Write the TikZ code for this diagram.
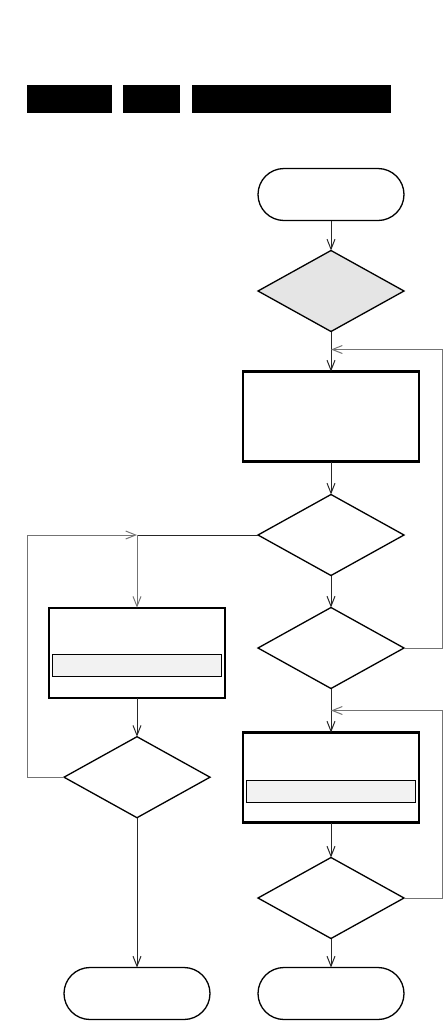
\documentclass[tikz,border=0pt]{standalone}
\usetikzlibrary{shapes.geometric, shapes.misc, arrows.meta, positioning, calc}

\begin{document}
\begin{tikzpicture}[
    x=1pt, y=-1pt,
    node distance=30pt and 11pt,
    >={Straight Barb[length=10pt,width=8pt]},
    base/.style={
      draw, inner sep=0pt, outer sep=0pt,
      line width=1.3pt
    },
    terminal/.style={
      base,
      shape=rounded rectangle,
      rounded rectangle arc length=180,
      minimum width=146pt, minimum height=52pt
    },
    decision/.style={
      base, diamond,
      minimum width=146pt, minimum height=81pt
    },
    process/.style={
      base, rectangle, line width=2.4pt,
      minimum width=176pt, minimum height=90pt
    },
    subbar/.style={
      draw, inner sep=0pt, outer sep=0pt,
      line width=0.8pt, fill=black!5,
      minimum width=169pt, minimum height=22pt
    },
    redact/.style={
      fill=black, inner sep=0pt,
      minimum height=28pt
    },
    arrow/.style={->, line width=1pt, black!85},
    back/.style={arrow, black!55}
  ]

    \useasboundingbox (0,0) rectangle (445,1021);

    % --- Header bars ---
    \node[redact, minimum width=85pt] (hdra) at (69.5,99) {};
    \node[redact, minimum width=57pt, right=of hdra] (hdrb) {};
    \node[redact, minimum width=199pt, right=of hdrb] (hdrc) {};

    % --- Start ---
    \node[terminal] (start) at (331,194.5) {};

    % --- First check ---
    \node[decision, fill=black!10, below=30pt of start] (chka) {};

    % --- Main block ---
    \node[process, below=40pt of chka] (blocka) {};

    % --- Checks ---
    \node[decision, below=33pt of blocka] (chkb) {};
    \node[decision, below=32pt of chkb] (chkc) {};

    % --- Right block ---
    \node[process, below=44pt of chkc] (blockc) {};
    \node[subbar, above=20pt of blockc.south] (blockcbar) {};

    \node[decision, below=35pt of blockc] (chke) {};

    % --- End (right) ---
    \node[terminal, below=29pt of chke] (enda) {};

    % --- Left block ---
    \node[process] (blockb) at (137,652.7) {};
    \node[subbar, above=21pt of blockb.south] (blockbbar) {};

    \node[decision, below=39pt of blockb] (chkd) {};

    % --- End (left) ---
    \node[terminal] (endb) at (chkd |- enda) {};

    % --- Joins ---
    \coordinate (joina) at ([yshift=-18pt]chka.south);
    \coordinate (joinb) at ([yshift=-22pt]chkc.south);
    \coordinate (split) at (blockb.north |- chkb.west);

    % --- Main vertical path ---
    \draw[arrow] (start) -- (chka);
    \draw[arrow] (chka) -- (blocka);
    \draw[arrow] (blocka) -- (chkb);
    \draw[arrow] (chkb) -- (chkc);
    \draw[arrow] (chkc) -- (blockc);
    \draw[arrow] (blockc) -- (chke);
    \draw[arrow] (chke) -- (enda);

    % right loops
    \draw[back] (chkc.east) -- ++(38.5,0) |- (joina);
    \draw[back] (chke.east) -- ++(38.5,0) |- (joinb);

    % left branch
    \draw[arrow, -] (chkb.west) -- (split);
    \draw[back] (split) -- (blockb);
    \draw[arrow] (blockb) -- (chkd);
    \draw[back] (chkd.west) -- ++(-37,0) |- (split);
    \draw[arrow] (chkd) -- (endb);

  \end{tikzpicture}
\end{document}
